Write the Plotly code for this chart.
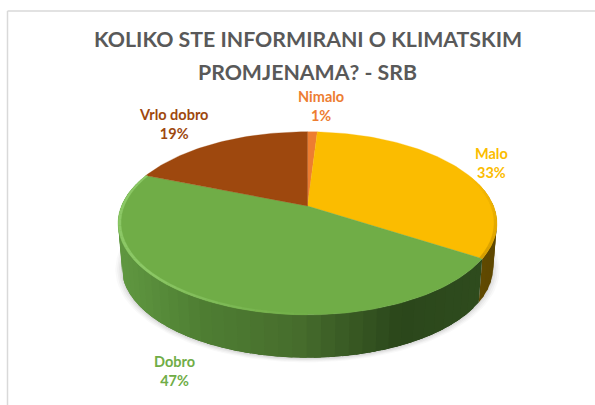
import numpy as np
import plotly.graph_objects as go

categories = ["Nimalo", "Malo", "Dobro", "Vrlo dobro"]
values = [1, 33, 47, 19]
colors = ["#ED7D31", "#FBBC00", "#70AD47", "#9E480E"]
title_lines = ["KOLIKO STE INFORMIRANI O KLIMATSKIM", "PROMJENAMA? - SRB"]

CX, CY = 307.5, 206.0
SX, SY, K = 186.0, 88.3, 0.189
DEPTH, BOTTOM_SCALE = 45.0, 0.98
FONT = "Lato"


def project(theta, r=1.0, dy=0.0, s=1.0):
    t = np.radians(theta)
    x, y = r * np.sin(t), r * np.cos(t)
    d = 1 + K * y
    return CX + s * SX * x / d, CY + dy - s * SY * y / d


def lerp_hex(a, b, f):
    pa = [int(a[i:i + 2], 16) for i in (1, 3, 5)]
    pb = [int(b[i:i + 2], 16) for i in (1, 3, 5)]
    return "#" + "".join(f"{round(u + (v - u) * f):02X}" for u, v in zip(pa, pb))


def ramp(stops, pos):
    for (p0, c0), (p1, c1) in zip(stops, stops[1:]):
        if pos <= p1:
            return lerp_hex(c0, c1, max(0, (pos - p0) / (p1 - p0)))
    return stops[-1][1]


def poly(xs, ys, color, lw=0.6):
    return go.Scatter(x=list(xs), y=list(ys), mode="lines", fill="toself", fillcolor=color,
                      line=dict(color=color, width=lw), hoverinfo="skip", showlegend=False)


fig = go.Figure()

# soft shadow under the pie
th = np.linspace(0, 360, 181)
for grow, alpha in [(1.035, 0.035), (1.025, 0.05), (1.015, 0.06), (1.005, 0.08)]:
    sx, sy = project(th, s=BOTTOM_SCALE * grow, dy=DEPTH + 1)
    fig.add_trace(poly(sx, sy, f"rgba(90,90,90,{alpha})", lw=0))

cum = np.cumsum([0] + values) * 3.6
green_wall = [(0, "#5F9640"), (0.18, "#4F7F33"), (0.45, "#466C2C"), (0.72, "#2B471B"), (1, "#2F4C1E")]
yellow_wall = [(0, "#7A5C00"), (0.6, "#6B5100"), (1, "#5F4800")]
wall_stops = {"Dobro": green_wall, "Malo": yellow_wall}

# side wall, built slice by slice from the slice angles; strips overlap to hide seams
for i, name in enumerate(categories):
    if name not in wall_stops:
        continue
    a0, a1 = cum[i], cum[i + 1]
    lo, hi = max(a0, 75), min(a1, 285)
    edges = np.linspace(lo, hi, 46 if name == "Dobro" else 12)
    for u, v in zip(edges, edges[1:]):
        tt = np.linspace(u, min(v + (hi - lo) / 30, hi), 4)
        x1, y1 = project(tt)
        x2, y2 = project(tt[::-1], s=BOTTOM_SCALE, dy=DEPTH)
        pos = (np.mean(x1) - (CX - SX)) / (2 * SX)
        fig.add_trace(poly(np.r_[x1, x2, x1[0]], np.r_[y1, y2, y1[0]], ramp(wall_stops[name], pos), lw=0))

# top face
for i, name in enumerate(categories):
    tt = np.linspace(cum[i], cum[i + 1], max(4, int(values[i] * 3)))
    x, y = project(tt)
    fig.add_trace(poly(np.r_[CX, x, CX], np.r_[CY, y, CY], colors[i], lw=0.3))

# bevel highlight along the front rim of the green slice
edges = np.linspace(180, cum[3], 34)
for u, v in zip(edges, edges[1:]):
    tt = np.linspace(u, v, 3)
    x1, y1 = project(tt)
    x2, y2 = project(tt[::-1], r=0.985)
    f = min(1, max(0, (v - 180) / 50))
    fig.add_trace(poly(np.r_[x1, x2, x1[0]], np.r_[y1, y2, y1[0]], lerp_hex("#70AD47", "#8CC866", f), lw=0.2))

# darker bevel on the right rim of the yellow slice
edges = np.linspace(70, cum[2], 16)
for u, v in zip(edges, edges[1:]):
    tt = np.linspace(u, v, 3)
    x1, y1 = project(tt)
    x2, y2 = project(tt[::-1], r=0.985)
    f = (v - 70) / (cum[2] - 70)
    fig.add_trace(poly(np.r_[x1, x2, x1[0]], np.r_[y1, y2, y1[0]], lerp_hex("#FBBC00", "#D79F00", f), lw=0.2))

label_pos = {"Nimalo": (320.5, 106), "Malo": (491, 163), "Dobro": (174.5, 371), "Vrlo dobro": (173.5, 123.5)}
annotations = []
for name, val, col in zip(categories, values, colors):
    lx, ly = label_pos[name]
    annotations.append(dict(x=lx, y=ly, xref="x", yref="y", showarrow=False,
                            text=f"<b>{name}<br>{val}%</b>", align="center",
                            font=dict(family=FONT, size=14.5, color=col)))
annotations.append(dict(x=307.5, y=39, xref="x", yref="y", showarrow=False, text=title_lines[0],
                        font=dict(family=FONT, size=21.3, color="#595959", weight=700)))
annotations.append(dict(x=307.5, y=72, xref="x", yref="y", showarrow=False, text=title_lines[1],
                        font=dict(family=FONT, size=21.3, color="#595959", weight=700)))

fig.update_layout(
    width=595, height=405, margin=dict(l=0, r=0, t=0, b=0), autosize=False,
    paper_bgcolor="white", plot_bgcolor="white", showlegend=False,
    xaxis=dict(range=[0, 595], visible=False, fixedrange=True),
    yaxis=dict(range=[405, 0], visible=False, fixedrange=True),
    annotations=annotations,
    shapes=[
        dict(type="line", xref="x", yref="y", x0=7.5, x1=595, y0=11, y1=11, line=dict(color="#D9D9D9", width=1.5)),
        dict(type="line", xref="x", yref="y", x0=7.5, x1=7.5, y0=11, y1=405, line=dict(color="#D9D9D9", width=1.5)),
    ],
)
fig.write_html("out.html", config={"displayModeBar": False},
               post_script="document.body.style.margin='0';document.body.style.overflow='hidden';")
